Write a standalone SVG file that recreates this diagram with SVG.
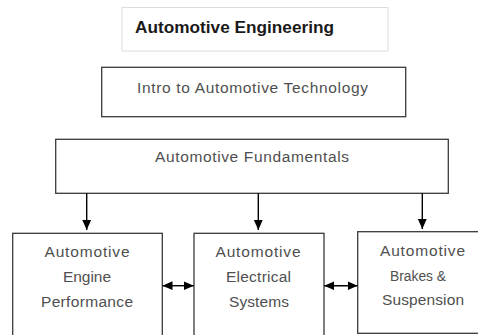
<svg xmlns="http://www.w3.org/2000/svg" width="478" height="335" viewBox="0 0 478 335">
  <style>
    .box { fill: #ffffff; stroke: #3a3a3a; stroke-width: 1.3; }
    .title-box { fill: #ffffff; stroke: #dcdcdc; stroke-width: 1; }
    .lbl { font-family: "Liberation Sans", Arial, sans-serif; font-size: 15.5px; fill: #4f4f4f; text-anchor: middle; }
    .title { font-family: "Liberation Sans", Arial, sans-serif; font-size: 17px; font-weight: bold; fill: #1a1a1a; }
    .conn { stroke: #000000; stroke-width: 1.4; fill: none; }
  </style>
  <defs>
    <marker id="ah" markerUnits="userSpaceOnUse" markerWidth="10" markerHeight="10" viewBox="0 0 10 10" refX="10" refY="5" orient="auto-start-reverse">
      <path d="M0,0.6 L10,5 L0,9.4 Z" fill="#000000"/>
    </marker>
  </defs>
  <rect x="0" y="0" width="478" height="335" fill="#ffffff"/>

  <g id="title">
    <rect class="title-box" x="122" y="7.5" width="266" height="43.5"/>
    <line x1="123" y1="51.5" x2="388" y2="51.5" stroke="#ececec" stroke-width="1"/>
    <text class="title" x="135" y="33" textLength="199" lengthAdjust="spacingAndGlyphs">Automotive Engineering</text>
  </g>

  <g id="intro">
    <rect class="box" x="101.7" y="67.3" width="304" height="49.4"/>
    <text class="lbl" x="252.5" y="93" textLength="231" lengthAdjust="spacing">Intro to Automotive Technology</text>
  </g>

  <g id="fundamentals">
    <rect class="box" x="55.7" y="139.3" width="392.6" height="54"/>
    <text class="lbl" x="252" y="162" textLength="194" lengthAdjust="spacing">Automotive Fundamentals</text>
  </g>

  <g id="engine">
    <rect class="box" x="12.7" y="233.3" width="149.6" height="110"/>
    <text class="lbl" x="87" y="257.3" textLength="85" lengthAdjust="spacing">Automotive</text>
    <text class="lbl" x="87" y="282.3" textLength="48" lengthAdjust="spacing">Engine</text>
    <text class="lbl" x="87" y="307.3" textLength="92" lengthAdjust="spacing">Performance</text>
  </g>

  <g id="electrical">
    <rect class="box" x="194" y="233.3" width="130" height="110"/>
    <text class="lbl" x="258" y="257.3" textLength="85" lengthAdjust="spacing">Automotive</text>
    <text class="lbl" x="258.5" y="282.3" textLength="65" lengthAdjust="spacing">Electrical</text>
    <text class="lbl" x="259" y="307.3" textLength="60" lengthAdjust="spacing">Systems</text>
  </g>

  <g id="brakes">
    <rect class="box" x="357.7" y="231.7" width="130" height="101.6"/>
    <text class="lbl" x="422.5" y="256" textLength="85" lengthAdjust="spacing">Automotive</text>
    <text class="lbl" x="418" y="280.5" textLength="56" lengthAdjust="spacingAndGlyphs">Brakes &amp;</text>
    <text class="lbl" x="423" y="305" textLength="82" lengthAdjust="spacing">Suspension</text>
  </g>

  <g id="connectors">
    <line class="conn" x1="86.7" y1="193.3" x2="86.7" y2="230" marker-end="url(#ah)"/>
    <line class="conn" x1="258.3" y1="193.3" x2="258.3" y2="230" marker-end="url(#ah)"/>
    <line class="conn" x1="422.3" y1="193.3" x2="422.3" y2="229" marker-end="url(#ah)"/>
    <line class="conn" x1="162.5" y1="285.7" x2="193.8" y2="285.7" marker-start="url(#ah)" marker-end="url(#ah)"/>
    <line class="conn" x1="324.2" y1="285.7" x2="357.5" y2="285.7" marker-start="url(#ah)" marker-end="url(#ah)"/>
  </g>
</svg>
